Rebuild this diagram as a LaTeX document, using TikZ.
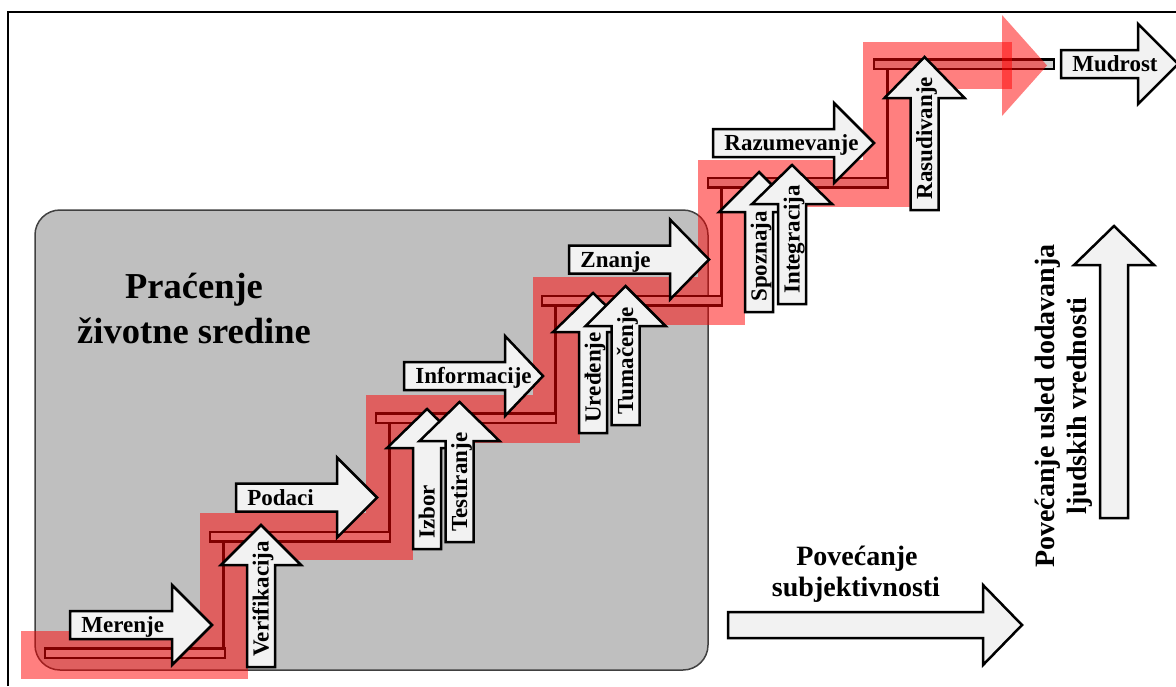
\documentclass[tikz,border=0pt]{standalone}
\usepackage{fontspec}
\setmainfont{Liberation Serif}
\definecolor{envgray}{HTML}{BFBFBF}
\definecolor{stepfill}{HTML}{D2D2D2}
\definecolor{arrowfill}{HTML}{F2F2F2}

% right-pointing block arrow with a left-aligned label: name, left, head base, tip, centre y, text
\newcommand{\hstepArrow}[6]{%
  \draw[arrowshape] (#2,#5-14) -- (#3,#5-14) -- (#3,#5-40) -- (#4,#5)
    -- (#3,#5+40) -- (#3,#5+14) -- (#2,#5+14) -- cycle;
  \node[lbl, anchor=west] (#1) at (#2+11,#5) {#6};
}
% upward block arrow with a rotated label: name, centre x, bottom, head base, apex, text
\newcommand{\vstepArrow}[6]{%
  \draw[arrowshape] (#2-14,#3) -- (#2-14,#4) -- (#2-40,#4) -- (#2,#5)
    -- (#2+40,#4) -- (#2+14,#4) -- (#2+14,#3) -- cycle;
  \node[lbl, rotate=90, anchor=west] (#1) at (#2,#3-10) {#6};
}

\begin{document}
\begin{tikzpicture}[x=0.5pt,y=-0.5pt,
  frameline/.style={draw=black, line width=1pt, line join=miter},
  envbox/.style={fill=envgray, draw=black!75, line width=0.75pt, rounded corners=12.5pt},
  stepbar/.style={fill=stepfill, draw=black, line width=1.25pt},
  riser/.style={draw=black, line width=1.5pt},
  band/.style={draw=red, line width=23.75pt, line join=miter, opacity=0.5},
  bandhead/.style={fill=red, opacity=0.5},
  arrowshape/.style={fill=arrowfill, draw=black, line width=1.25pt, line join=miter},
  lbl/.style={font=\bfseries\fontsize{11.5}{13}\selectfont, inner sep=0pt,
    text height=7.6pt, text depth=0pt},
  bigtext/.style={font=\bfseries\fontsize{14}{16}\selectfont, inner sep=0pt},
  titletext/.style={font=\bfseries\fontsize{18.25}{22}\selectfont, inner sep=0pt}
]
\useasboundingbox (0,0) rectangle (1176,686);

% outer frame (top and left edges)
\draw[frameline] (8,686) -- (8,12) -- (1176,12);

% environmental monitoring area
\draw[envbox] (35,210) rectangle (708,670);
\node[titletext, anchor=base] (title1) at (194,298) {Praćenje};
\node[titletext, anchor=base] (title2) at (194,343) {životne sredine};

% staircase: treads and risers
\draw[stepbar] (45,648.25) rectangle (225,657.75);
\draw[stepbar] (210,531.75) rectangle (390,541.25);
\draw[stepbar] (376,413.25) rectangle (556,422.75);
\draw[stepbar] (542,295.75) rectangle (722,305.25);
\draw[stepbar] (708,177.75) rectangle (888,187.25);
\draw[stepbar] (874,59.25) rectangle (1054,68.75);
\draw[riser] (223,541.25) -- (223,648.25);
\draw[riser] (389,422.75) -- (389,531.75);
\draw[riser] (555,305.25) -- (555,413.25);
\draw[riser] (721,187.25) -- (721,295.75);
\draw[riser] (887,68.75) -- (887,177.75);

% translucent red path climbing the stairs
\draw[band] (21,655) -- (224,655) -- (224,536.5) -- (389.5,536.5) -- (389.5,419)
  -- (556.5,419) -- (556.5,301) -- (721.5,301) -- (721.5,183.5) -- (887,183.5)
  -- (887,65.5) -- (1012,65.5);
\fill[bandhead] (1002,15) -- (1047,65.5) -- (1002,116) -- cycle;

% levels
\hstepArrow{merenje}{70}{172}{212}{625}{Merenje}
\hstepArrow{podaci}{236}{337}{377}{497.5}{Podaci}
\hstepArrow{informacije}{404}{505}{543}{376}{Informacije}
\hstepArrow{znanje}{569}{670}{709}{259.5}{Znanje}
\hstepArrow{razumevanje}{713}{834}{874}{143}{Razumevanje}
\hstepArrow{mudrost}{1061}{1138}{1178}{64}{Mudrost}

% transitions between levels
\vstepArrow{verifikacija}{261}{667}{565}{525}{Verifikacija}
\vstepArrow{izbor}{427}{549}{448}{409}{Izbor}
\vstepArrow{testiranje}{459.5}{542}{441}{402}{Testiranje}
\vstepArrow{uredjenje}{593}{433}{332}{293}{Uređenje}
\vstepArrow{tumacenje}{625.5}{425}{326}{286}{Tumačenje}
\vstepArrow{spoznaja}{759}{312}{212}{172}{Spoznaja}
\vstepArrow{integracija}{792}{304}{204}{165}{Integracija}
\vstepArrow{rasudivanje}{924.5}{210}{98}{57}{Rasudivanje}

% axis arrows
\draw[arrowshape] (728,612) -- (983,612) -- (983,585) -- (1022,625) -- (983,665)
  -- (983,638) -- (728,638) -- cycle;
\node[bigtext, anchor=base] (subj1) at (857,565) {Povećanje};
\node[bigtext, anchor=base] (subj2) at (856,596) {subjektivnosti};

\draw[arrowshape] (1100,518) -- (1100,265) -- (1074,265) -- (1114,226) -- (1154,265)
  -- (1128,265) -- (1128,518) -- cycle;
\node[bigtext, anchor=base, rotate=90] (human1) at (1054,406) {Povećanje usled dodavanja};
\node[bigtext, anchor=base, rotate=90] (human2) at (1086,406) {ljudskih vrednosti};
\end{tikzpicture}
\end{document}
